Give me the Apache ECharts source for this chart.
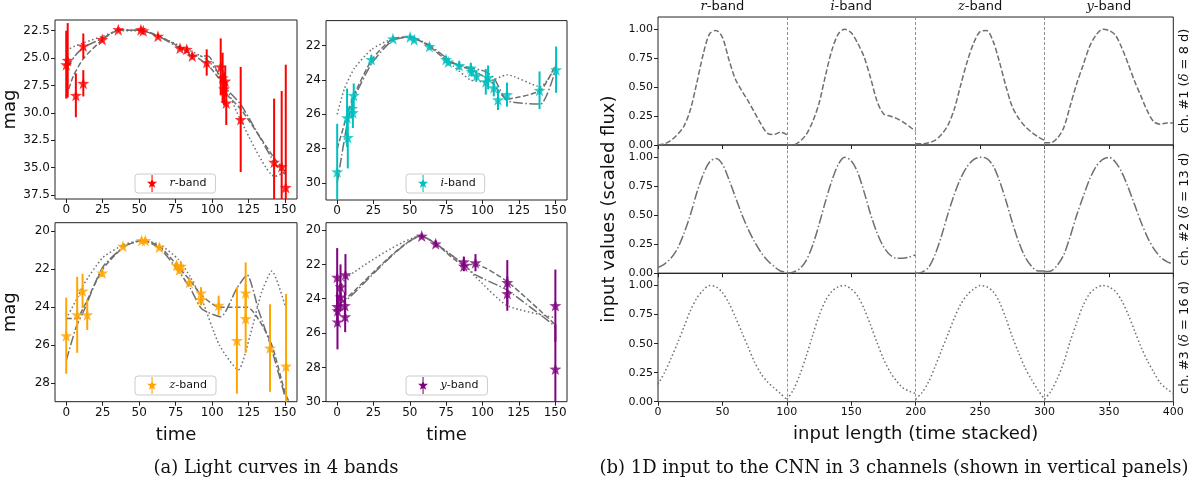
<!DOCTYPE html>
<html>
<head>
<meta charset="utf-8">
<script src="https://cdn.jsdelivr.net/npm/echarts@6/dist/echarts.min.js"></script>
<style>
  html, body { margin: 0; background: #fff; }
  #main { width: 1200px; height: 486px; }
</style>
</head>
<body>
<div id="main"></div>
<script>
// ---- (a) light curves: time, magnitude, error ----
const rT   = [0, 1, 6.6, 11.7, 11.7, 24.7, 35.7, 51.2, 52.8, 62.9, 78.0, 82.6, 86.4, 96.3, 105.9, 107.2, 108.2, 109.0, 109.7, 119.6, 142.5, 147.7, 150.5];
const rMag = [25.6, 25.2, 28.4, 23.9, 27.3, 23.3, 22.4, 22.4, 22.5, 23.0, 24.1, 24.2, 24.8, 25.4, 25.8, 26.8, 27.8, 27.1, 29.1, 30.6, 34.5, 34.9, 36.8];
const rErr = [3.1, 3.4, 2.0, 1.15, 1.2, 0.25, 0.2, 0.2, 0.2, 0.2, 0.2, 0.25, 0.3, 1.2, 2.6, 2.3, 1.5, 1.4, 2.0, 4.8, 5.8, 6.9, 11.2];

const iT   = [0, 6.8, 7.3, 10.3, 10.8, 11.4, 23.5, 38.4, 50.2, 53.0, 63.5, 74.9, 76.5, 84.0, 92.0, 92.5, 95.9, 102.3, 103.9, 107.8, 110.7, 116.9, 139.3, 150.7];
const iMag = [29.35, 26.2, 27.35, 25.65, 25.9, 24.9, 22.8, 21.6, 21.5, 21.65, 22.05, 22.8, 22.95, 23.15, 23.3, 23.5, 23.75, 24.1, 23.85, 24.45, 25.15, 24.85, 24.6, 23.4];
const iErr = [2.8, 1.7, 1.8, 0.6, 0.9, 0.7, 0.25, 0.15, 0.15, 0.15, 0.2, 0.2, 0.2, 0.25, 0.3, 0.3, 0.3, 0.75, 0.7, 0.5, 0.6, 0.7, 1.1, 1.35];

const zT   = [0, 7.5, 11.2, 14.4, 24.7, 38.9, 51.7, 54.2, 63.8, 75.7, 77.5, 78.7, 84.4, 92.4, 92.4, 104.5, 117.0, 123.0, 123.0, 139.7, 150.7];
const zMag = [25.5, 24.4, 23.15, 24.4, 22.2, 20.8, 20.5, 20.5, 20.85, 21.8, 22.05, 21.85, 22.7, 23.25, 23.6, 23.9, 25.75, 23.25, 24.6, 26.15, 27.1];
const zErr = [2.0, 2.0, 0.9, 0.8, 0.2, 0.15, 0.15, 0.15, 0.15, 0.2, 0.2, 0.2, 0.2, 0.3, 0.3, 0.5, 2.8, 1.6, 1.8, 2.3, 3.8];

const yT   = [0, 0, 0.3, 0.2, 2.3, 2.3, 5.7, 5.3, 5.5, 58.2, 67.8, 87.2, 87.2, 95.2, 117.1, 117.1, 150.2, 150.2];
const yMag = [22.75, 24.45, 24.7, 25.35, 23.3, 23.9, 22.6, 24.4, 25.05, 20.35, 20.8, 21.85, 22.1, 21.9, 23.05, 23.7, 24.4, 28.1];
const yErr = [1.7, 0.8, 0.9, 1.6, 1.3, 0.8, 1.2, 0.8, 0.9, 0.15, 0.2, 0.3, 0.3, 0.5, 1.3, 1.0, 2.1, 2.6];

// fitted curves (dashed / dash-dot / dotted)
const rDash    = [[0,28.5],[5,26.6],[12,25.0],[25,23.3],[36,22.45],[50,22.45],[63,22.95],[78,24.0],[88,24.8],[97,25.6],[107,27.3],[110,28.3],[120,29.7],[143,34.2],[150,35.3]];
const rDashDot = [[0,26.0],[6,24.8],[12,24.0],[25,23.2],[36,22.4],[52,22.5],[63,23.0],[78,24.1],[86,24.8],[97,24.8],[108,27.5],[120,29.3],[143,34.6],[150,35.6]];
const rDot     = [[0,24.3],[6,23.9],[12,23.6],[25,23.0],[36,22.5],[52,22.5],[63,23.0],[80,24.0],[97,25.2],[108,27.2],[120,30.8],[143,35.8],[150,35.4]];

const iDash    = [[0,28.0],[7,26.0],[12,24.8],[24,22.8],[38,21.6],[50,21.5],[63,22.0],[76,22.9],[92,23.4],[105,24.0],[117,25.1],[140,24.6],[151,23.0]];
const iDashDot = [[0,30.0],[7,26.5],[12,25.0],[24,23.0],[38,21.7],[50,21.5],[64,22.0],[80,23.0],[92,23.3],[102,23.5],[108,23.9],[117,25.2],[140,25.4],[151,23.2]];
const iDot     = [[0,26.0],[5,24.5],[12,23.3],[24,22.2],[38,21.6],[50,21.5],[63,22.0],[80,23.2],[92,24.0],[103,24.1],[117,23.7],[140,24.4],[151,23.1]];

const zDash    = [[0,24.6],[7,24.6],[12,24.0],[25,22.0],[40,20.8],[52,20.5],[64,20.8],[77,21.9],[85,22.6],[93,23.4],[105,24.0],[124,24.0],[140,25.8],[150,28.5],[153,29.0]];
const zDashDot = [[0,26.8],[7,25.0],[12,24.2],[25,21.9],[40,20.8],[52,20.5],[64,20.9],[77,22.1],[85,23.0],[93,24.1],[106,24.5],[117,23.0],[124,22.3],[132,24.2],[140,26.0],[150,28.7]];
const zDot     = [[0,24.6],[7,23.6],[12,22.8],[25,21.4],[40,20.7],[52,20.5],[64,20.7],[77,21.5],[85,22.4],[93,23.6],[105,26.0],[118,27.3],[126,25.5],[134,23.2],[141,22.1],[150,23.9]];

const yDash    = [[0,24.5],[6,24.0],[58,20.35],[68,20.8],[87,22.0],[95,22.0],[117,23.0],[150,25.5]];
const yDashDot = [[0,24.3],[6,24.1],[58,20.35],[68,20.8],[87,22.0],[95,22.6],[117,23.5],[150,25.6]];
const yDot     = [[0,24.1],[6,22.8],[58,20.35],[68,20.8],[87,22.0],[95,22.7],[117,24.4],[150,25.1]];

// ---- (b) stacked CNN input, each band sampled at these steps ----
const steps = [0, 5, 10, 15, 20, 25, 30, 35, 40, 45, 50, 55, 60, 65, 70, 75, 80, 85, 90, 95, 100];
const ch1R = [0.00,0.01,0.04,0.09,0.16,0.30,0.53,0.78,0.96,0.99,0.93,0.74,0.57,0.47,0.38,0.28,0.18,0.10,0.09,0.11,0.09];
const ch1I = [0.00,0.00,0.03,0.09,0.20,0.36,0.60,0.82,0.96,1.00,0.97,0.88,0.76,0.58,0.38,0.27,0.25,0.23,0.20,0.16,0.12];
const ch1Z = [0.01,0.01,0.02,0.04,0.09,0.17,0.31,0.52,0.72,0.88,0.98,0.99,0.90,0.72,0.51,0.33,0.23,0.16,0.11,0.07,0.04];
const ch1Y = [0.02,0.02,0.06,0.15,0.34,0.53,0.69,0.85,0.95,1.00,0.99,0.95,0.84,0.70,0.55,0.42,0.29,0.20,0.18,0.19,0.19];
const ch2R = [0.05,0.08,0.13,0.21,0.34,0.50,0.69,0.85,0.96,0.99,0.94,0.81,0.66,0.51,0.38,0.27,0.18,0.11,0.06,0.02,0.01];
const ch2I = [0.00,0.01,0.04,0.11,0.24,0.42,0.62,0.80,0.94,1.00,0.97,0.87,0.70,0.51,0.35,0.23,0.16,0.13,0.13,0.14,0.16];
const ch2Z = [0.00,0.01,0.05,0.16,0.32,0.51,0.68,0.82,0.92,0.98,1.00,0.99,0.93,0.80,0.63,0.44,0.27,0.14,0.06,0.02,0.02];
const ch2Y = [0.015,0.02,0.07,0.16,0.32,0.50,0.66,0.81,0.92,0.98,1.00,0.96,0.87,0.74,0.59,0.44,0.31,0.21,0.14,0.10,0.08];
const ch3R = [0.15,0.25,0.37,0.50,0.64,0.78,0.89,0.96,1.00,0.99,0.94,0.85,0.73,0.60,0.47,0.34,0.24,0.17,0.12,0.07,0.02];
const ch3I = [0.02,0.10,0.23,0.39,0.57,0.74,0.87,0.95,0.99,1.00,0.97,0.91,0.80,0.66,0.51,0.37,0.26,0.18,0.12,0.09,0.07];
const ch3Z = [0.02,0.08,0.17,0.30,0.44,0.58,0.72,0.84,0.92,0.97,1.00,0.99,0.95,0.86,0.72,0.56,0.42,0.29,0.19,0.10,0.02];
const ch3Y = [0.02,0.09,0.20,0.34,0.52,0.68,0.83,0.93,0.98,1.00,0.99,0.95,0.87,0.75,0.61,0.47,0.35,0.25,0.16,0.11,0.07];

// ticks and labels
const timeTicks = [0, 25, 50, 75, 100, 125, 150];
const rTicks = [22.5, 25, 27.5, 30, 32.5, 35, 37.5];
const iTicks = [22, 24, 26, 28, 30];
const zTicks = [20, 22, 24, 26, 28];
const yTicks = [20, 22, 24, 26, 28, 30];
const valueTicks = [0, 0.25, 0.5, 0.75, 1];
const bandLetters = ['r', 'i', 'z', 'y'];
const bandCenters = [50, 150, 250, 350];
const bandEdges = [100, 200, 300];
const chLabels = ['ch. #1 ({it|δ} = 8 d)', 'ch. #2 ({it|δ} = 13 d)', 'ch. #3 ({it|δ} = 16 d)'];

const GRAY = '#6f6f6f';
const DASHED = [5.5, 2.4], DASHDOT = [9.6, 2.4, 1.5, 2.4], DOTTED = [1.5, 2.5];
const STAR = 'path://M0,-10L2.35,-3.24L9.51,-3.09L3.8,1.24L5.88,8.09L0,4L-5.88,8.09L-3.8,1.24L-9.51,-3.09L-2.35,-3.24Z';
const STAR_BAR = 'path://M-1,-16L1,-16L1,16L-1,16Z M0,-10L2.35,-3.24L9.51,-3.09L3.8,1.24L5.88,8.09L0,4L-5.88,8.09L-3.8,1.24L-9.51,-3.09L-2.35,-3.24Z';
const italic = { fontStyle: 'italic', fontFamily: 'DejaVu Serif' };

const chart = echarts.init(document.getElementById('main'));

function frame(left, top, width, height) {
  return { left, top, width, height, show: true, borderColor: '#222', borderWidth: 1, backgroundColor: 'transparent' };
}

function timeAxis(gi, name) {
  return {
    type: 'value', gridIndex: gi, min: -7.7, max: 158.2,
    axisLine: { show: false, onZero: false }, splitLine: { show: false },
    axisTick: { customValues: timeTicks, length: 4, lineStyle: { color: '#222' } },
    axisLabel: { customValues: timeTicks, fontSize: 12, color: '#111', margin: 5 },
    name: name, nameLocation: 'middle', nameGap: 25,
    nameTextStyle: { fontSize: 18, color: '#111' }
  };
}

// magnitudes grow downwards
function magAxis(gi, min, max, ticks, digits, name) {
  return {
    type: 'value', gridIndex: gi, inverse: true, min, max,
    axisLine: { show: false, onZero: false }, splitLine: { show: false },
    axisTick: { customValues: ticks, length: 4, lineStyle: { color: '#222' } },
    axisLabel: { customValues: ticks, fontSize: 12, color: '#111', margin: 5,
      formatter: v => v.toFixed(digits) },
    name: name || '', nameLocation: 'middle', nameGap: 36,
    nameTextStyle: { fontSize: 18, color: '#111' }
  };
}

function errSeries(name, color, t, mag, err, gi) {
  return {
    type: 'custom', name, xAxisIndex: gi, yAxisIndex: gi, z: 3,
    itemStyle: { color },
    data: t.map((v, k) => [v, mag[k] - err[k], mag[k] + err[k]]),
    encode: { x: 0, y: [1, 2] },
    renderItem: (params, api) => {
      const a = api.coord([api.value(0), api.value(1)]);
      const b = api.coord([api.value(0), api.value(2)]);
      const cs = params.coordSys;
      const shape = echarts.graphic.clipRectByRect(
        { x: a[0] - 1, y: Math.min(a[1], b[1]), width: 2, height: Math.abs(b[1] - a[1]) },
        { x: cs.x, y: cs.y, width: cs.width, height: cs.height });
      return shape && { type: 'rect', shape, style: { fill: color } };
    }
  };
}

function starSeries(name, color, t, mag, gi) {
  return {
    type: 'scatter', name, xAxisIndex: gi, yAxisIndex: gi, z: 4,
    symbol: STAR, symbolSize: 12, itemStyle: { color },
    data: t.map((v, k) => [v, mag[k]])
  };
}

function fitSeries(pts, dash, gi) {
  return {
    type: 'line', xAxisIndex: gi, yAxisIndex: gi, z: 2, silent: true,
    symbol: 'none', smooth: 0.2, data: pts,
    lineStyle: { color: GRAY, width: 1.5, type: dash }
  };
}

function bandSeries(vals, b, gi, dash, withEdges) {
  const s = {
    type: 'line', xAxisIndex: gi, yAxisIndex: gi, z: 2, silent: true,
    symbol: 'none', smooth: 0.3,
    data: steps.map((st, k) => [b * 100 + st, vals[k]]),
    lineStyle: { color: GRAY, width: 1.5, type: dash }
  };
  if (withEdges) {
    s.markLine = {
      silent: true, symbol: 'none', label: { show: false },
      lineStyle: { type: [3, 2], color: '#777', width: 0.8 },
      data: bandEdges.map(v => ({ xAxis: v }))
    };
  }
  return s;
}

function bandLegend(name, left, top) {
  return {
    data: [name], left, top, icon: STAR_BAR, itemWidth: 11, itemHeight: 17,
    padding: [1, 9, 1, 12], borderColor: '#ccc', borderWidth: 1, borderRadius: 3,
    backgroundColor: 'rgba(255,255,255,0.85)', selectedMode: false,
    formatter: n => '{it|' + n.charAt(0) + '}-band',
    textStyle: { fontSize: 11, color: '#111', padding: [0, 0, 0, 7], rich: { it: italic } }
  };
}

const rowTops = [16.7, 145, 273.3];
const chVals = [[ch1R, ch1I, ch1Z, ch1Y], [ch2R, ch2I, ch2Z, ch2Y], [ch3R, ch3I, ch3Z, ch3Y]];
const chDash = [DASHED, DASHDOT, DOTTED];

const grids = [
  frame(55, 20, 242, 179), frame(326, 20.6, 241, 179.4),
  frame(55, 222.7, 242, 179), frame(326, 222.7, 241, 179),
  frame(658, rowTops[0], 515.3, 128.3), frame(658, rowTops[1], 515.3, 128.3), frame(658, rowTops[2], 515.3, 128.4)
];

const xAxes = [
  timeAxis(0, ''), timeAxis(1, ''), timeAxis(2, 'time'), timeAxis(3, 'time')
];
[4, 5, 6].forEach(gi => {
  xAxes.push({
    type: 'value', gridIndex: gi, min: 0, max: 400, interval: 50,
    axisLine: { show: false, onZero: false }, splitLine: { show: false },
    axisTick: { length: 4, lineStyle: { color: '#222' } },
    axisLabel: { show: gi === 6, fontSize: 11, color: '#111', margin: 5 },
    name: gi === 6 ? 'input length (time stacked)' : '', nameLocation: 'middle', nameGap: 24,
    nameTextStyle: { fontSize: 18, color: '#111' }
  });
});
// band names along the top of the first row
xAxes.push({
  type: 'value', gridIndex: 4, position: 'top', min: 0, max: 400, interval: 50,
  axisLine: { show: false, onZero: false }, axisTick: { show: false }, splitLine: { show: false },
  axisLabel: { fontSize: 13, color: '#111', margin: 4, showMinLabel: true, showMaxLabel: true,
    formatter: v => { const k = bandCenters.indexOf(v); return k < 0 ? '' : '{it|' + bandLetters[k] + '}-band'; },
    rich: { it: Object.assign({ fontSize: 13, color: '#111' }, italic) } }
});

const yAxes = [
  magAxis(0, 21.52, 37.86, rTicks, 1, 'mag'),
  magAxis(1, 20.54, 30.99, iTicks, 0),
  magAxis(2, 19.56, 28.97, zTicks, 0, 'mag'),
  magAxis(3, 19.57, 30, yTicks, 0)
];
[4, 5, 6].forEach(gi => {
  yAxes.push({
    type: 'value', gridIndex: gi, min: 0, max: 1.106,
    axisLine: { show: false, onZero: false }, splitLine: { show: false },
    axisTick: { customValues: valueTicks, length: 4, lineStyle: { color: '#222' } },
    axisLabel: { customValues: valueTicks, fontSize: 11, color: '#111', margin: 5, formatter: v => v.toFixed(2) },
    name: gi === 5 ? 'input values (scaled flux)' : '', nameLocation: 'middle', nameGap: 40,
    nameTextStyle: { fontSize: 18, color: '#111' }
  });
});
[4, 5, 6].forEach((gi, k) => {
  yAxes.push({
    type: 'value', gridIndex: gi, position: 'right', min: 0, max: 1.106,
    axisLine: { show: false, onZero: false }, axisTick: { show: false }, axisLabel: { show: false }, splitLine: { show: false },
    name: chLabels[k], nameLocation: 'middle', nameGap: 5, nameRotate: 90,
    nameTextStyle: { fontSize: 13, color: '#111', rich: { it: Object.assign({ fontSize: 13, color: '#111' }, italic) } }
  });
});

const series = [
  fitSeries(rDash, DASHED, 0), fitSeries(rDashDot, DASHDOT, 0), fitSeries(rDot, DOTTED, 0),
  errSeries('r-band', '#ff0000', rT, rMag, rErr, 0), starSeries('r-band', '#ff0000', rT, rMag, 0),
  fitSeries(iDash, DASHED, 1), fitSeries(iDashDot, DASHDOT, 1), fitSeries(iDot, DOTTED, 1),
  errSeries('i-band', '#00bfbf', iT, iMag, iErr, 1), starSeries('i-band', '#00bfbf', iT, iMag, 1),
  fitSeries(zDash, DASHED, 2), fitSeries(zDashDot, DASHDOT, 2), fitSeries(zDot, DOTTED, 2),
  errSeries('z-band', '#ffa500', zT, zMag, zErr, 2), starSeries('z-band', '#ffa500', zT, zMag, 2),
  fitSeries(yDash, DASHED, 3), fitSeries(yDashDot, DASHDOT, 3), fitSeries(yDot, DOTTED, 3),
  errSeries('y-band', '#800080', yT, yMag, yErr, 3), starSeries('y-band', '#800080', yT, yMag, 3)
];
chVals.forEach((bands, c) => {
  bands.forEach((vals, b) => series.push(bandSeries(vals, b, 4 + c, chDash[c], b === 0)));
});

chart.setOption({
  animation: false,
  backgroundColor: '#fff',
  textStyle: { fontFamily: 'DejaVu Sans' },
  grid: grids,
  xAxis: xAxes,
  yAxis: yAxes,
  legend: [
    bandLegend('r-band', 135, 174),
    bandLegend('i-band', 406, 174),
    bandLegend('z-band', 135, 376),
    bandLegend('y-band', 406, 376)
  ],
  graphic: [
    { type: 'text', x: 276, y: 468, style: { text: '(a) Light curves in 4 bands', fontFamily: 'DejaVu Serif', fontSize: 18, fill: '#111', align: 'center', verticalAlign: 'middle' } },
    { type: 'text', x: 894, y: 468, style: { text: '(b) 1D input to the CNN in 3 channels (shown in vertical panels)', fontFamily: 'DejaVu Serif', fontSize: 18, fill: '#111', align: 'center', verticalAlign: 'middle' } }
  ],
  series
});
</script>
</body>
</html>
